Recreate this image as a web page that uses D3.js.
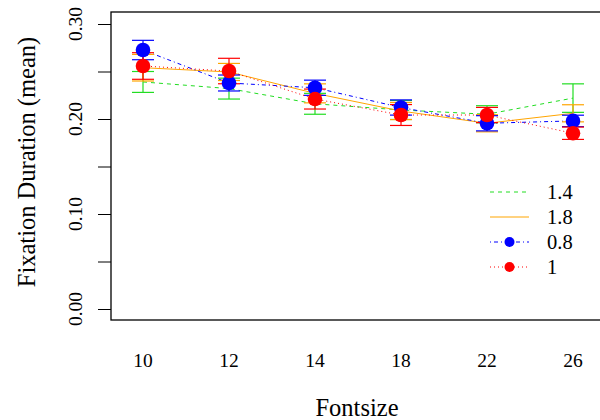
<!DOCTYPE html>
<html>
<head>
<meta charset="utf-8">
<script src="https://cdn.jsdelivr.net/npm/d3@7/dist/d3.min.js"></script>
<style>
  body { margin: 0; background: #fff; }
</style>
</head>
<body>
<div id="chart"></div>
<script>
// Fixation duration (mean) by font size, one line per spacing level

const fontsizes = ["10", "12", "14", "18", "22", "26"];
const yTicks = [0, 0.05, 0.10, 0.15, 0.20, 0.25, 0.30];
const yLabels = ["0.00", "", "0.10", "", "0.20", "", "0.30"];

const groups = ["1.4", "1.8", "0.8", "1"];
const groupColors = ["#22dd22", "#ffa500", "#0000ff", "#ff0000"];
const groupDash = ["4,4", null, "1,3,4,3", "1,3"];
const groupHasDots = [false, false, true, true];

const means_14 = [0.239, 0.232, 0.216, 0.2095, 0.205, 0.222];
const means_18 = [0.254, 0.2495, 0.227, 0.2084, 0.1955, 0.206];
const means_08 = [0.2726, 0.2379, 0.2329, 0.2121, 0.1955, 0.198];
const means_1 = [0.2558, 0.2505, 0.221, 0.2042, 0.2042, 0.185];

const err_14 = [0.011, 0.011, 0.011, 0.010, 0.009, 0.015];
const err_18 = [0.014, 0.009, 0.010, 0.009, 0.009, 0.009];
const err_08 = [0.0102, 0.0084, 0.008, 0.008, 0.008, 0.006];
const err_1 = [0.014, 0.0134, 0.0105, 0.011, 0.008, 0.0065];

const allMeans = [means_14, means_18, means_08, means_1];
const allErrs = [err_14, err_18, err_08, err_1];

const width = 600, height = 420;
const box = { left: 111, right: 603, top: 12, bottom: 320 };
const serif = "'Liberation Serif', 'Times New Roman', Times, serif";

const svg = d3.select("#chart").append("svg")
    .attr("width", width)
    .attr("height", height)
    .attr("font-family", serif);

// Scales
const xScale = d3.scalePoint()
    .domain(fontsizes)
    .range([143, 573]);
const yScale = d3.scaleLinear()
    .domain([0, 0.3])
    .range([309, 24]);

// Y axis with long ticks, rotated labels
const yAxis = svg.append("g")
    .attr("transform", "translate(" + box.left + ",0)")
    .call(d3.axisLeft(yScale).tickValues(yTicks).tickSize(13).tickFormat(""));
yAxis.select(".domain").remove();
yAxis.selectAll("line").attr("stroke", "#000").attr("stroke-width", 1);

svg.append("g").selectAll("text")
    .data(yTicks)
    .enter()
    .append("text")
    .attr("transform", d => "translate(82," + yScale(d) + ") rotate(-90)")
    .attr("text-anchor", "middle")
    .attr("font-family", serif)
    .style("font-size", "19.5px")
    .text((d, i) => yLabels[i]);

// X tick labels (no tick marks)
svg.append("g").selectAll("text")
    .data(fontsizes)
    .enter()
    .append("text")
    .attr("x", d => xScale(d))
    .attr("y", 367)
    .attr("text-anchor", "middle")
    .attr("font-family", serif)
    .style("font-size", "19.5px")
    .text(d => d);

// Axis titles
svg.append("text")
    .attr("x", (box.left + box.right) / 2)
    .attr("y", 416)
    .attr("text-anchor", "middle")
    .attr("font-family", serif)
    .style("font-size", "24.5px")
    .text("Fontsize");
svg.append("text")
    .attr("transform", "translate(35," + 162 + ") rotate(-90)")
    .attr("text-anchor", "middle")
    .attr("font-family", serif)
    .style("font-size", "24.5px")
    .text("Fixation Duration (mean)");

// Lines for each group
const line = d3.line()
    .x((d, i) => xScale(fontsizes[i]))
    .y(d => yScale(d));

groups.forEach(function (g, gi) {
    svg.append("path")
       .datum(allMeans[gi])
       .attr("fill", "none")
       .attr("stroke", groupColors[gi])
       .attr("stroke-width", 1)
       .attr("stroke-dasharray", groupDash[gi])
       .attr("d", line);
});

// Error bars
groups.forEach(function (g, gi) {
    const eg = svg.append("g").attr("stroke", groupColors[gi]).attr("stroke-width", 1.2);
    allMeans[gi].forEach(function (m, i) {
        const x = xScale(fontsizes[i]);
        const lo = yScale(m - allErrs[gi][i]), hi = yScale(m + allErrs[gi][i]);
        eg.append("line").attr("x1", x).attr("x2", x).attr("y1", lo).attr("y2", hi);
        eg.append("line").attr("x1", x - 11).attr("x2", x + 11).attr("y1", lo).attr("y2", lo);
        eg.append("line").attr("x1", x - 11).attr("x2", x + 11).attr("y1", hi).attr("y2", hi);
    });
});

// Dots
groups.forEach(function (g, gi) {
    if (!groupHasDots[gi]) return;
    svg.append("g").selectAll("circle")
       .data(allMeans[gi])
       .enter()
       .append("circle")
       .attr("cx", (d, i) => xScale(fontsizes[i]))
       .attr("cy", d => yScale(d))
       .attr("r", 7.3)
       .attr("fill", groupColors[gi]);
});

// Plot box
svg.append("rect")
    .attr("x", box.left)
    .attr("y", box.top)
    .attr("width", box.right - box.left)
    .attr("height", box.bottom - box.top)
    .attr("fill", "none")
    .attr("stroke", "#000")
    .attr("stroke-width", 1.3);

// Legend
const legend = svg.append("g");
groups.forEach(function (g, gi) {
    const ly = 192 + gi * 25;
    legend.append("line")
          .attr("x1", 490).attr("x2", 529)
          .attr("y1", ly).attr("y2", ly)
          .attr("stroke", groupColors[gi])
          .attr("stroke-dasharray", groupDash[gi]);
    if (groupHasDots[gi]) {
        legend.append("circle")
              .attr("cx", 509.5).attr("cy", ly)
              .attr("r", 5)
              .attr("fill", groupColors[gi]);
    }
    legend.append("text")
          .attr("x", 547)
          .attr("y", ly + 7)
          .attr("font-family", serif)
          .style("font-size", "20.5px")
          .text(g);
});
</script>
</body>
</html>
